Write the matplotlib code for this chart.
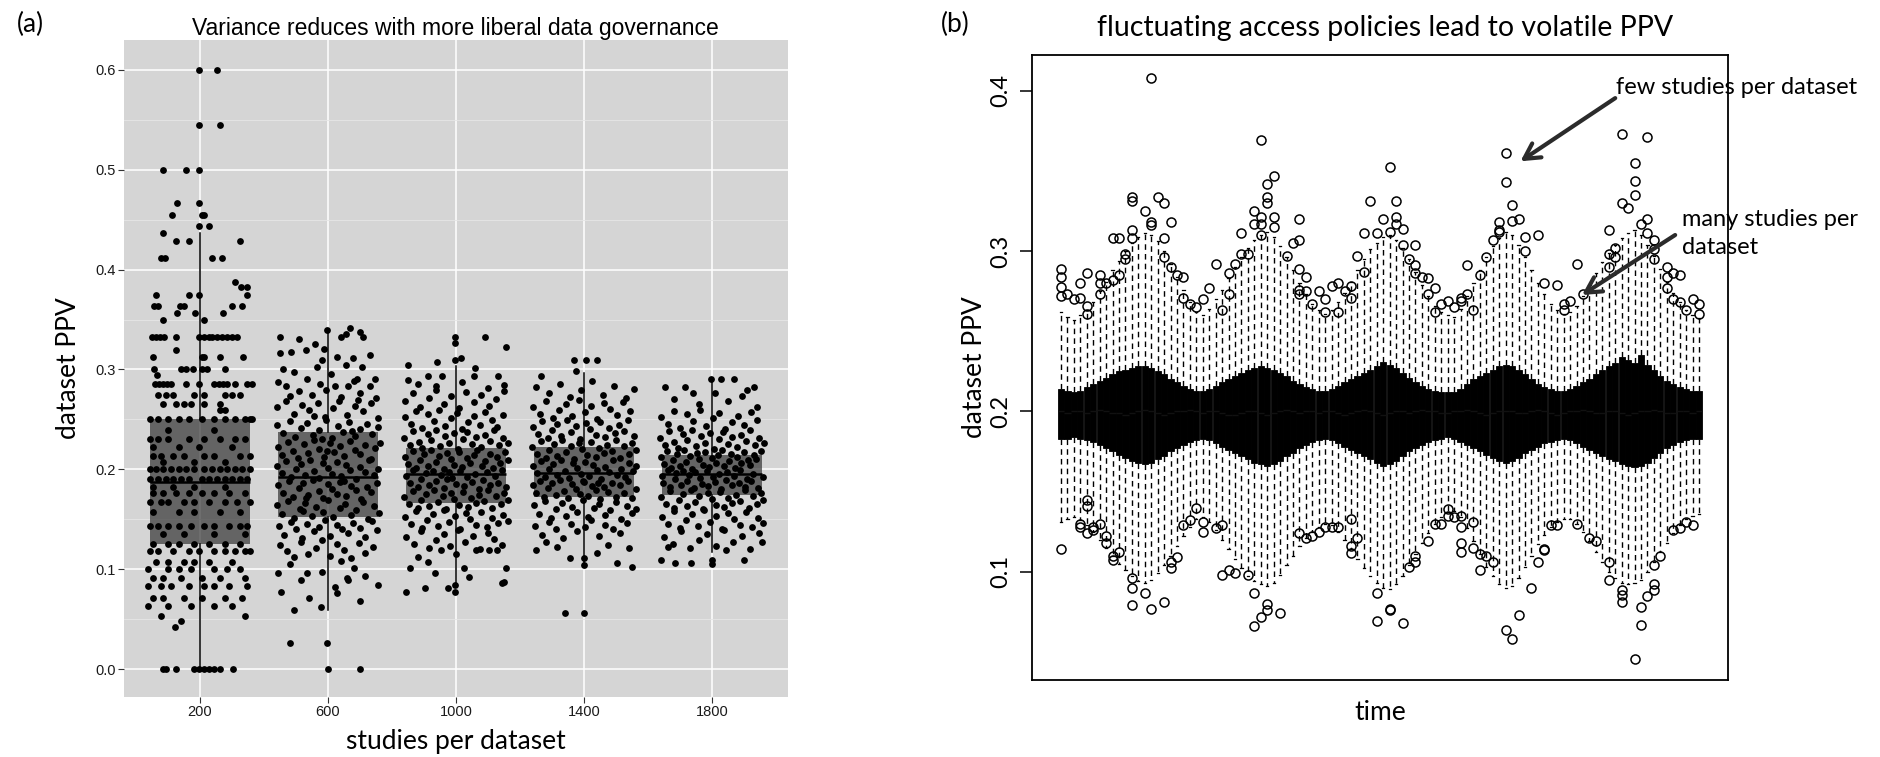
import matplotlib.pyplot as plt
import numpy as np

# ---------------- panel (a): PPV per dataset vs studies per dataset ----------------
a_pos = [200, 600, 1000, 1400, 1800]
a_q1 = [0.125, 0.152, 0.166, 0.172, 0.174]
a_med = [0.187, 0.192, 0.195, 0.196, 0.195]
a_q3 = [0.250, 0.237, 0.221, 0.222, 0.214]
a_lo = [0.000, 0.059, 0.084, 0.104, 0.117]
a_hi = [0.437, 0.340, 0.304, 0.296, 0.290]

# 200 studies: PPV takes few discrete levels -> (level, jitter offsets)
rows_200 = [
    (0.600, [-3, 53]), (0.545, [-3, 61]), (0.500, [-115, -43, -3]), (0.467, [-72, -3]),
    (0.455, [-88, 5, 13]), (0.444, [-3, 29]), (0.437, [-115]), (0.429, [-75, -35, 124]),
    (0.412, [-122, -110, 37, 69]), (0.388, [108]), (0.383, [128, 148]),
    (0.375, [-137, -35, -3, 148]), (0.364, [-145, -131, -63, -51, 100, 131]),
    (0.357, [-71, -17, 72]), (0.350, [-117, 13]),
    (0.333, [-150, -137, -124, -112, -75, -3, 13, 29, 37, 53, 69, 85, 100, 116]),
    (0.320, [-75]), (0.313, [-147, 5, 13, 64, 135]), (0.300, [-145, -60, -44, -21, 5, 21, 77]),
    (0.294, [-134]),
    (0.285, [-140, -128, -115, -103, -90, -43, -3, 45, 59, 72, 85, 108, 148, 161]),
    (0.274, [-131, -107, -83, -19, 13, 77, 100, 124]), (0.265, [-115, -75, -51, -27, 13, 61]),
    (0.259, [61, 77]),
    (0.250, [-155, -131, -99, -67, -35, 5, 45, 77, 108, 140, 156, 164]),
    (0.239, [-99, 45]), (0.230, [-155, -131, -99, -35, 13, 61, 108, 140]),
    (0.222, [-147, -67, -3, 100]), (0.213, [-147, -123, -83, -51, 13, 45, 124, 156]),
    (0.207, [-115, -19, 77]),
    (0.200, [-155, -139, -115, -91, -67, -43, -19, 13, 37, 61, 85, 108, 132, 156]),
    (0.190, [-155, -131, -107, -83, -59, -35, 5, 29, 53, 77, 100, 124, 148]),
    (0.182, [-147, -83, -19, 77]), (0.176, [-147, -115, -75, -35, 5, 45, 92, 140]),
    (0.167, [-155, -123, -99, -51, -19, 29, 77, 116, 156]), (0.157, [-147, -67, -19, 61, 124]),
    (0.143, [-155, -131, -99, -67, -27, 13, 45, 92, 124, 148]), (0.135, [-115, -51, 45, 140]),
    (0.125, [-147, -99, -67, -19, 29, 77, 124]),
    (0.118, [-155, -131, -83, -35, -3, 45, 77, 108, 140, 156]),
    (0.107, [-139, -99, -51, -19, 29, 100]), (0.100, [-162, -99, -67, -27, 45, 85, 124]),
    (0.091, [-147, -115, -59, 5, 61, 140]), (0.083, [-162, -123, -91, -35, 13, 45, 92, 148]),
    (0.071, [-147, -115, -51, 5, 77, 132]), (0.063, [-162, -99, -27, 45, 100]),
    (0.053, [-123, 140]), (0.048, [-59]), (0.042, [-79]),
    (0.000, [-115, -107, -75, -19, -3, 13, 29, 45, 61, 104]),
]

# (jitter offset, PPV)
pts_600 = [
    (-150, .333), (-3, .340), (41, .333), (57, .336), (69, .342), (100, .338), (108, .333), (-90, .331),
    (-150, .317), (-115, .318), (-70, .320), (-11, .321), (29, .313), (77, .312), (-40, .326), (130, .315),
    (-107, .297), (-67, .290), (-35, .303), (-19, .310), (105, .303), (92, .290), (148, .290), (-140, .301), (10, .295), (55, .305),
    (-155, .287), (-131, .283), (21, .283), (61, .283), (132, .283), (-90, .278), (-50, .274), (-5, .279), (40, .272), (100, .276),
    (150, .271), (-120, .273), (80, .288), (-25, .285),
    (-158, .262), (-130, .268), (-105, .255), (-80, .264), (-60, .259), (-30, .266), (-10, .252), (15, .261), (35, .268), (60, .254),
    (85, .263), (110, .258), (135, .266), (155, .251), (-45, .253), (95, .269),
    (-160, .244), (-141, .236), (-119, .248), (-102, .232), (-83, .241), (-66, .246), (-46, .234), (-29, .239), (-7, .249), (11, .231),
    (31, .243), (47, .237), (67, .247), (85, .233), (101, .240), (121, .245), (137, .235), (157, .242), (-20, .230), (74, .238),
    (-157, .222), (-143, .214), (-126, .227), (-108, .218), (-93, .211), (-75, .225), (-61, .216), (-43, .229), (-27, .220), (-11, .212),
    (5, .226), (19, .217), (37, .223), (51, .213), (69, .228), (84, .219), (101, .215), (115, .224), (133, .210), (147, .221), (161, .226), (-4, .218),
    (-160, .203), (-145, .196), (-131, .208), (-115, .192), (-101, .200), (-85, .205), (-73, .194), (-55, .209), (-43, .198), (-27, .191),
    (-15, .206), (1, .201), (13, .195), (29, .207), (41, .193), (57, .204), (69, .199), (87, .190), (99, .202), (115, .197),
    (127, .209), (143, .194), (155, .200), (49, .188),
    (-155, .184), (-141, .176), (-123, .188), (-109, .172), (-91, .181), (-79, .186), (-61, .174), (-47, .189), (-29, .178), (-17, .171),
    (-1, .185), (11, .180), (27, .175), (39, .187), (57, .173), (71, .183), (89, .179), (103, .170), (121, .182), (135, .177), (153, .186), (-69, .171),
    (-159, .164), (-143, .155), (-124, .168), (-106, .151), (-87, .160), (-71, .166), (-51, .153), (-36, .162), (-17, .157), (1, .169),
    (17, .152), (37, .161), (53, .165), (73, .154), (89, .159), (109, .167), (125, .150), (145, .163), (159, .156), (-79, .158),
    (-154, .143), (-136, .134), (-117, .147), (-101, .140), (-81, .131), (-65, .145), (-44, .138), (-29, .142), (-9, .149), (7, .133),
    (27, .144), (43, .140), (63, .136), (79, .146), (99, .141), (115, .132), (136, .148), (154, .139),
    (-151, .124), (-127, .118), (-106, .112), (-84, .127), (-63, .115), (-39, .121), (-19, .129), (6, .113), (27, .125), (51, .119),
    (71, .111), (96, .126), (117, .116), (141, .122),
    (-155, .096), (-120, .105), (-83, .089), (-67, .096), (-19, .097), (40, .108), (80, .101), (115, .093), (60, .091),
    (-147, .077), (-107, .059), (-22, .062), (29, .076), (61, .089), (21, .082), (156, .084), (-60, .071), (100, .068),
    (-118, .026), (-3, .026), (0, .000), (100, .000),
]

pts_1000 = [
    (-3, .333), (-3, .327), (92, .333), (156, .323),
    (-151, .305), (-3, .310), (16, .312), (60, .302), (-60, .308),
    (-88, .293), (-43, .293), (56, .293), (132, .293), (-120, .285), (-64, .283), (20, .287), (100, .281), (-150, .289), (150, .284),
    (-158, .268), (-133, .276), (-112, .262), (-84, .271), (-63, .279), (-37, .265), (-16, .273), (9, .261), (31, .277), (56, .267),
    (77, .274), (103, .263), (124, .270), (149, .278),
    (-160, .252), (-141, .245), (-125, .258), (-105, .241), (-89, .255), (-69, .248), (-53, .259), (-33, .243), (-17, .251), (3, .256),
    (19, .240), (39, .247), (55, .253), (75, .244), (91, .257), (111, .249), (127, .242), (147, .254),
    (-161, .231), (-145, .224), (-133, .238), (-117, .227), (-105, .221), (-89, .235), (-77, .229), (-61, .239), (-49, .223), (-33, .233),
    (-21, .226), (-5, .236), (7, .220), (23, .230), (35, .237), (51, .225), (63, .232), (79, .222), (91, .234), (107, .228),
    (119, .239), (135, .224), (147, .231), (161, .226),
    (-159, .212), (-149, .205), (-135, .218), (-125, .201), (-111, .209), (-101, .215), (-87, .203), (-77, .219), (-63, .207), (-53, .213),
    (-39, .200), (-29, .216), (-15, .210), (-5, .204), (9, .217), (19, .202), (33, .211), (43, .206), (57, .214), (67, .219),
    (81, .203), (91, .208), (105, .215), (115, .201), (129, .212), (139, .206), (153, .217), (162, .209),
    (-157, .193), (-143, .186), (-133, .199), (-119, .182), (-109, .190), (-95, .196), (-85, .184), (-71, .198), (-61, .188), (-47, .194),
    (-37, .181), (-23, .197), (-13, .191), (1, .185), (11, .198), (25, .183), (35, .192), (49, .187), (59, .195), (73, .180),
    (83, .189), (97, .197), (107, .184), (121, .193), (131, .186), (145, .199), (155, .182), (-29, .190),
    (-161, .172), (-146, .165), (-135, .178), (-120, .161), (-109, .169), (-94, .175), (-83, .163), (-68, .179), (-57, .167), (-42, .173),
    (-31, .160), (-16, .176), (-5, .170), (10, .164), (21, .177), (36, .162), (47, .171), (62, .166), (73, .174), (88, .168),
    (99, .179), (114, .161), (125, .173), (140, .165), (151, .176), (162, .169),
    (-158, .152), (-140, .145), (-125, .158), (-106, .141), (-91, .149), (-72, .155), (-57, .143), (-38, .159), (-23, .147), (-4, .153),
    (11, .140), (30, .156), (45, .150), (64, .144), (79, .157), (98, .142), (113, .151), (132, .146), (147, .154), (161, .148),
    (-155, .132), (-131, .125), (-110, .138), (-85, .121), (-64, .129), (-39, .135), (-18, .123), (7, .139), (28, .127), (53, .133),
    (74, .120), (99, .136), (120, .130), (145, .124),
    (-143, .101), (-88, .107), (24, .101), (-48, .119), (64, .119), (104, .119), (128, .119), (156, .101), (-120, .112), (0, .115),
    (-155, .077), (-96, .081), (-67, .096), (-3, .084), (-3, .077), (-24, .081), (143, .086), (150, .087), (40, .092),
]

pts_1400 = [
    (-32, .310), (5, .310), (40, .310), (-24, .298), (-135, .293),
    (-150, .282), (-110, .276), (-75, .285), (-45, .272), (-10, .279), (25, .288), (60, .274), (95, .283), (130, .271), (155, .280),
    (-158, .262), (-137, .255), (-119, .268), (-97, .251), (-79, .259), (-57, .265), (-39, .253), (-17, .269), (3, .257), (23, .263),
    (41, .250), (63, .266), (81, .260), (103, .254), (121, .267), (143, .258),
    (-160, .242), (-144, .235), (-131, .248), (-114, .231), (-101, .239), (-84, .245), (-71, .233), (-54, .249), (-41, .237), (-24, .243),
    (-11, .230), (6, .246), (19, .240), (36, .234), (49, .247), (66, .232), (79, .241), (96, .236), (109, .244), (126, .238),
    (139, .249), (156, .233),
    (-161, .222), (-146, .215), (-135, .228), (-120, .211), (-109, .219), (-94, .225), (-83, .213), (-68, .229), (-57, .217), (-42, .223),
    (-31, .210), (-16, .226), (-5, .220), (10, .214), (21, .227), (36, .212), (47, .221), (62, .216), (73, .224), (88, .218),
    (99, .229), (114, .211), (125, .223), (140, .215), (151, .226), (162, .219),
    (-158, .203), (-147, .196), (-134, .208), (-122, .192), (-109, .200), (-97, .205), (-84, .194), (-72, .209), (-59, .198), (-47, .191),
    (-34, .206), (-22, .201), (-9, .195), (3, .207), (16, .193), (28, .204), (41, .199), (53, .190), (66, .202), (78, .197),
    (91, .209), (103, .194), (116, .200), (128, .192), (141, .206), (153, .198), (162, .203), (-2, .188),
    (-160, .184), (-149, .176), (-136, .188), (-124, .172), (-111, .181), (-99, .186), (-86, .174), (-74, .189), (-61, .178), (-49, .171),
    (-36, .185), (-24, .180), (-11, .175), (1, .187), (14, .173), (26, .183), (39, .179), (51, .170), (64, .182), (76, .177),
    (89, .186), (101, .172), (114, .184), (126, .176), (139, .188), (151, .171), (161, .180), (45, .186),
    (-157, .164), (-140, .155), (-123, .168), (-104, .151), (-89, .160), (-70, .166), (-55, .153), (-36, .162), (-21, .157), (-2, .169),
    (13, .152), (32, .161), (47, .165), (66, .154), (81, .159), (100, .167), (115, .150), (134, .163), (149, .156), (161, .160),
    (-153, .143), (-130, .134), (-109, .147), (-86, .140), (-65, .131), (-42, .145), (-21, .138), (2, .142), (23, .149), (46, .133),
    (67, .144), (90, .140), (111, .136), (134, .146),
    (-151, .119), (-120, .127), (-85, .122), (-43, .111), (0, .111), (40, .116), (75, .124), (104, .106), (140, .121), (151, .102),
    (0, .104), (-59, .056), (0, .056),
]

pts_1800 = [
    (-3, .290), (29, .290), (69, .290), (132, .282), (-147, .282),
    (-83, .282), (-120, .270), (-40, .265), (10, .276), (50, .268), (95, .273), (140, .262), (-60, .276), (110, .279),
    (-159, .252), (-139, .245), (-118, .258), (-99, .241), (-78, .255), (-59, .248), (-38, .259), (-19, .243), (2, .251), (21, .256),
    (42, .240), (61, .247), (82, .253), (101, .244), (122, .257), (141, .249),
    (-161, .231), (-147, .224), (-133, .238), (-119, .227), (-105, .221), (-91, .235), (-77, .229), (-63, .239), (-49, .223), (-35, .233),
    (-21, .226), (-7, .236), (7, .220), (21, .230), (35, .237), (49, .225), (63, .232), (77, .222), (91, .234), (105, .228),
    (119, .239), (133, .224), (147, .231), (161, .226),
    (-160, .212), (-149, .205), (-141, .218), (-128, .201), (-121, .209), (-108, .215), (-101, .203), (-88, .219), (-81, .207), (-68, .213),
    (-61, .200), (-48, .216), (-41, .210), (-28, .204), (-21, .217), (-8, .202), (1, .211), (12, .206), (19, .214), (32, .219),
    (39, .203), (52, .208), (59, .215), (72, .201), (79, .212), (92, .206), (99, .217), (112, .209), (119, .204), (132, .214),
    (139, .210), (152, .218),
    (-157, .193), (-152, .186), (-137, .199), (-132, .182), (-117, .190), (-112, .196), (-97, .184), (-92, .198), (-77, .188), (-72, .194),
    (-57, .181), (-52, .197), (-37, .191), (-32, .185), (-17, .198), (-12, .183), (3, .192), (8, .187), (23, .195), (28, .180),
    (43, .189), (48, .197), (63, .184), (68, .193), (83, .186), (88, .199), (103, .182), (108, .190), (123, .188), (128, .195),
    (143, .181), (158, .192),
    (-158, .172), (-144, .165), (-131, .178), (-118, .161), (-104, .169), (-92, .175), (-79, .163), (-66, .179), (-52, .167), (-40, .173),
    (-27, .160), (-14, .176), (-1, .170), (12, .164), (24, .177), (37, .162), (50, .171), (64, .166), (76, .174), (89, .168),
    (102, .179), (116, .161), (128, .173), (141, .165), (154, .176), (160, .169),
    (-155, .152), (-137, .145), (-118, .158), (-99, .141), (-81, .149), (-62, .155), (-43, .143), (-25, .159), (-6, .147), (13, .153),
    (31, .140), (50, .156), (69, .150), (87, .144), (106, .157), (125, .142), (143, .151), (160, .146),
    (-150, .132), (-123, .125), (-96, .138), (-69, .121), (-42, .129), (-15, .135), (12, .123), (39, .139), (66, .127), (93, .133),
    (120, .120), (147, .136),
    (-159, .109), (-115, .106), (-67, .106), (0, .109), (0, .105), (100, .109), (156, .127), (-139, .122), (45, .119),
]

# ---------------- panel (b): 100 boxplots over time ----------------
b_hi = [0.262, 0.259, 0.257, 0.260, 0.263, 0.268, 0.275, 0.281, 0.288, 0.294,
        0.300, 0.305, 0.309, 0.311, 0.310, 0.306, 0.300, 0.292, 0.284, 0.276,
        0.268, 0.262, 0.260, 0.264, 0.270, 0.276, 0.283, 0.290, 0.296, 0.302,
        0.307, 0.310, 0.312, 0.309, 0.303, 0.296, 0.288, 0.280, 0.273, 0.267,
        0.263, 0.261, 0.263, 0.268, 0.274, 0.281, 0.288, 0.295, 0.301, 0.305,
        0.309, 0.310, 0.307, 0.302, 0.295, 0.287, 0.279, 0.272, 0.266, 0.262,
        0.260, 0.259, 0.264, 0.272, 0.280, 0.288, 0.296, 0.303, 0.308, 0.312,
        0.310, 0.304, 0.296, 0.288, 0.280, 0.273, 0.267, 0.263, 0.261, 0.262,
        0.266, 0.272, 0.279, 0.286, 0.293, 0.299, 0.304, 0.308, 0.311, 0.313,
        0.310, 0.304, 0.297, 0.289, 0.281, 0.274, 0.268, 0.263, 0.260, 0.258]
b_q3 = [0.214, 0.213, 0.212, 0.213, 0.215, 0.217, 0.219, 0.221, 0.223, 0.225,
        0.226, 0.227, 0.228, 0.228, 0.227, 0.225, 0.223, 0.220, 0.218, 0.216,
        0.214, 0.213, 0.213, 0.214, 0.216, 0.218, 0.220, 0.222, 0.224, 0.226,
        0.227, 0.228, 0.227, 0.226, 0.224, 0.222, 0.219, 0.217, 0.215, 0.214,
        0.213, 0.213, 0.214, 0.216, 0.218, 0.220, 0.222, 0.224, 0.226, 0.228,
        0.231, 0.229, 0.227, 0.224, 0.221, 0.218, 0.216, 0.214, 0.213, 0.212,
        0.212, 0.212, 0.214, 0.217, 0.220, 0.222, 0.224, 0.226, 0.228, 0.229,
        0.228, 0.226, 0.223, 0.220, 0.217, 0.215, 0.214, 0.213, 0.213, 0.214,
        0.216, 0.218, 0.220, 0.223, 0.226, 0.228, 0.230, 0.234, 0.232, 0.230,
        0.235, 0.229, 0.226, 0.222, 0.219, 0.217, 0.215, 0.214, 0.213, 0.213]
b_med = [0.200, 0.199, 0.200, 0.200, 0.199, 0.200, 0.201, 0.200, 0.199, 0.199,
         0.198, 0.199, 0.200, 0.201, 0.200, 0.199, 0.198, 0.199, 0.200, 0.200,
         0.201, 0.200, 0.199, 0.200, 0.200, 0.199, 0.198, 0.198, 0.199, 0.200,
         0.200, 0.199, 0.198, 0.199, 0.200, 0.201, 0.200, 0.199, 0.200, 0.200,
         0.199, 0.200, 0.200, 0.199, 0.198, 0.199, 0.200, 0.201, 0.200, 0.199,
         0.198, 0.199, 0.200, 0.200, 0.199, 0.200, 0.201, 0.200, 0.200, 0.199,
         0.199, 0.200, 0.200, 0.201, 0.200, 0.199, 0.198, 0.199, 0.200, 0.200,
         0.200, 0.199, 0.199, 0.200, 0.201, 0.200, 0.199, 0.198, 0.199, 0.200,
         0.200, 0.201, 0.200, 0.199, 0.199, 0.200, 0.200, 0.199, 0.198, 0.199,
         0.200, 0.200, 0.201, 0.200, 0.199, 0.199, 0.200, 0.200, 0.199, 0.200]
b_q1 = [0.183, 0.183, 0.184, 0.183, 0.182, 0.181, 0.179, 0.177, 0.175, 0.173,
        0.171, 0.169, 0.168, 0.167, 0.168, 0.170, 0.172, 0.175, 0.177, 0.179,
        0.181, 0.182, 0.183, 0.182, 0.180, 0.178, 0.176, 0.174, 0.172, 0.170,
        0.168, 0.167, 0.166, 0.167, 0.169, 0.172, 0.174, 0.177, 0.179, 0.181,
        0.182, 0.183, 0.182, 0.180, 0.178, 0.176, 0.174, 0.172, 0.170, 0.168,
        0.166, 0.167, 0.169, 0.172, 0.175, 0.177, 0.179, 0.181, 0.182, 0.183,
        0.184, 0.183, 0.181, 0.179, 0.177, 0.175, 0.173, 0.171, 0.169, 0.168,
        0.169, 0.171, 0.174, 0.176, 0.178, 0.180, 0.181, 0.182, 0.183, 0.182,
        0.180, 0.178, 0.176, 0.174, 0.172, 0.170, 0.169, 0.167, 0.166, 0.165,
        0.166, 0.168, 0.171, 0.174, 0.177, 0.179, 0.181, 0.182, 0.183, 0.183]
b_lo = [0.131, 0.133, 0.134, 0.132, 0.129, 0.125, 0.120, 0.115, 0.110, 0.105,
        0.101, 0.097, 0.094, 0.093, 0.095, 0.099, 0.104, 0.110, 0.116, 0.122,
        0.128, 0.133, 0.134, 0.131, 0.126, 0.120, 0.114, 0.108, 0.102, 0.097,
        0.094, 0.092, 0.091, 0.093, 0.098, 0.104, 0.110, 0.116, 0.121, 0.125,
        0.128, 0.130, 0.129, 0.125, 0.120, 0.114, 0.108, 0.102, 0.097, 0.093,
        0.090, 0.089, 0.092, 0.097, 0.104, 0.111, 0.118, 0.124, 0.130, 0.134,
        0.137, 0.138, 0.134, 0.127, 0.119, 0.111, 0.103, 0.097, 0.092, 0.090,
        0.091, 0.096, 0.103, 0.110, 0.117, 0.123, 0.128, 0.131, 0.133, 0.133,
        0.130, 0.125, 0.119, 0.112, 0.106, 0.100, 0.096, 0.093, 0.092, 0.093,
        0.095, 0.100, 0.106, 0.112, 0.118, 0.124, 0.129, 0.133, 0.135, 0.136]

# outliers: (time step, PPV)
b_out = [
    (1, .289), (1, .284), (1, .2775), (1, .272), (2, .273), (3, .270), (4, .280), (4, .271), (5, .266), (5, .261), (5, .286),
    (7, .285), (7, .280), (7, .273), (8, .280), (9, .282), (10, .285), (9, .308), (10, .308), (11, .298), (11, .295),
    (12, .334), (12, .331), (12, .313), (12, .308), (14, .325), (15, .408), (15, .318), (15, .316), (16, .334), (17, .330),
    (17, .308), (17, .296), (18, .318), (18, .290), (19, .285), (20, .284), (20, .271), (21, .267), (22, .265), (23, .270),
    (24, .277), (25, .292), (26, .263), (27, .286), (27, .273), (28, .292), (29, .298), (29, .311), (30, .298), (31, .317),
    (31, .325), (32, .369), (32, .317), (32, .321), (32, .310), (33, .342), (33, .334), (33, .330), (34, .347), (34, .321),
    (34, .315), (36, .297), (37, .305), (38, .320), (38, .307), (38, .289), (38, .276), (38, .273), (39, .284), (39, .275),
    (40, .267), (41, .275), (42, .270), (42, .262), (43, .278), (44, .280), (44, .262), (45, .275), (46, .271), (46, .278),
    (47, .297), (48, .287), (48, .311), (49, .331), (50, .311), (51, .320), (52, .3525), (52, .312), (53, .331), (53, .321),
    (53, .317), (54, .314), (54, .304), (55, .295), (56, .304), (56, .291), (56, .286), (57, .284), (58, .283), (58, .273),
    (59, .277), (59, .262), (60, .267), (61, .269), (62, .265), (63, .269), (63, .271), (64, .273), (64, .291), (65, .263),
    (66, .285), (67, .296), (68, .307), (69, .312), (69, .318), (69, .313), (70, .361), (70, .343), (71, .319), (71, .329),
    (72, .320), (73, .309), (73, .300), (75, .310), (76, .280), (78, .279), (79, .267), (79, .263), (80, .269), (81, .292),
    (82, .273), (86, .313), (86, .298), (86, .290), (87, .302), (87, .296), (88, .373), (88, .330), (89, .327), (90, .355),
    (90, .344), (90, .335), (91, .317), (92, .371), (92, .320), (92, .311), (93, .307), (93, .301), (93, .295), (95, .290),
    (95, .284), (95, .277), (96, .286), (96, .270), (97, .285), (97, .268), (98, .263), (99, .270), (100, .267), (100, .261),
    (1, .114), (4, .130), (4, .128), (5, .145), (5, .141), (5, .124), (6, .126), (6, .128), (7, .130), (8, .122), (8, .118),
    (9, .107), (9, .110), (10, .1125), (12, .096), (12, .090), (12, .079), (14, .0865), (15, .0765), (17, .081), (18, .106),
    (18, .102), (19, .109), (20, .129), (21, .132), (22, .140), (23, .125), (23, .131), (25, .127), (26, .129), (26, .098),
    (27, .101), (28, .099), (30, .098), (31, .0865), (31, .066), (32, .072), (33, .080), (33, .076), (35, .074), (38, .124),
    (39, .121), (40, .122), (41, .125), (42, .128), (43, .128), (44, .128), (46, .133), (46, .116), (46, .1115), (47, .121),
    (50, .0865), (50, .069), (52, .077), (52, .076), (54, .068), (55, .103), (56, .106), (56, .110), (58, .119), (59, .130),
    (60, .130), (61, .139), (61, .135), (62, .134), (63, .112), (63, .135), (63, .128), (63, .118), (65, .131), (65, .115),
    (66, .111), (66, .101), (67, .110), (68, .106), (70, .0635), (71, .058), (72, .073), (74, .0895), (75, .106), (76, .1135),
    (76, .114), (77, .129), (78, .129), (81, .130), (83, .121), (84, .119), (86, .106), (86, .095), (88, .0885), (88, .0855),
    (88, .081), (90, .0452), (91, .078), (91, .067), (92, .0845), (93, .0885), (93, .0925), (93, .104), (94, .110), (96, .126),
    (97, .127), (98, .131), (99, .129),
]

W, H = 1880, 757
plt.rcParams['font.family'] = ['Lato', 'DejaVu Sans']
fig = plt.figure(figsize=(W / 100, H / 100), dpi=100)


def px(x, y):
    return x / W, 1 - y / H


def ft(x, y, s, **kw):
    fig.text(*px(x, y), s, **kw)


# ---- (a) ----
ax1 = fig.add_axes([124 / W, 1 - 697 / H, 664 / W, 657 / H])
ax1.set_facecolor('#d5d5d5')
for sp in ax1.spines.values():
    sp.set_visible(False)
ax1.set_xlim(-37.5, 2037.5)
ax1.set_ylim(-0.028, 0.630)
ax1.set_xticks(a_pos)
ax1.set_xticklabels([str(p) for p in a_pos])
yt = [0.0, 0.1, 0.2, 0.3, 0.4, 0.5, 0.6]
ax1.set_yticks(yt)
ax1.set_yticklabels(['%.1f' % v for v in yt])
ax1.set_yticks([0.05, 0.15, 0.25, 0.35, 0.45, 0.55], minor=True)
ax1.grid(True, which='major', color='white', lw=1.1)
ax1.grid(True, which='minor', axis='y', color='#e6e6e6', lw=0.6)
ax1.set_axisbelow(True)
ax1.tick_params(which='major', length=4, width=0.8, color='#333333', labelsize=10.5,
                labelcolor='#1a1a1a', pad=2)
ax1.tick_params(which='minor', length=0)
for lab in ax1.get_xticklabels() + ax1.get_yticklabels():
    lab.set_fontfamily('Liberation Sans')

stats_a = []
for k in range(len(a_pos)):
    stats_a.append(dict(med=a_med[k], q1=a_q1[k], q3=a_q3[k], whislo=a_lo[k], whishi=a_hi[k], fliers=[]))
ax1.bxp(stats_a, positions=a_pos, widths=310, patch_artist=True, showfliers=False, showcaps=False,
        boxprops=dict(facecolor='#2e2e2e', alpha=0.68, edgecolor='none'),
        whiskerprops=dict(color='black', lw=1.1),
        medianprops=dict(color='black', lw=1.8), manage_ticks=False)

xs, ys = [], []
for lvl, offs in rows_200:
    for o in offs:
        xs.append(200 + o)
        ys.append(lvl)
for c, pts in [(600, pts_600), (1000, pts_1000), (1400, pts_1400), (1800, pts_1800)]:
    for o, v in pts:
        xs.append(c + o)
        ys.append(v)
ax1.scatter(xs, ys, s=24, c='black', lw=0, zorder=3)

# ---- (b) ----
ax2 = fig.add_axes([1032 / W, 1 - 680 / H, 696 / W, 625 / H])
ax2.set_xlim(-3.5, 104.5)
ax2.set_ylim(0.0324, 0.4223)
stats_b = []
for k in range(100):
    fl = [v for i, v in b_out if i == k + 1]
    stats_b.append(dict(med=b_med[k], q1=b_q1[k], q3=b_q3[k], whislo=b_lo[k], whishi=b_hi[k], fliers=fl))
ax2.bxp(stats_b, positions=range(1, 101), widths=0.95, patch_artist=True, showfliers=True,
        capwidths=0.35,
        boxprops=dict(facecolor='black', edgecolor='black', lw=0.6),
        whiskerprops=dict(color='black', lw=1.0, linestyle=(0, (4, 3))),
        capprops=dict(color='black', lw=0.9),
        medianprops=dict(color='#111111', lw=1.0),
        flierprops=dict(marker='o', mfc='none', mec='black', ms=6.5, mew=1.1),
        manage_ticks=False)
ax2.set_xticks([])
bt = [0.1, 0.2, 0.3, 0.4]
ax2.set_yticks(bt)
ax2.set_yticklabels(['%.1f' % v for v in bt], rotation=90, va='center')
ax2.tick_params(axis='y', length=9, width=1.1, labelsize=17, pad=6)
for sp in ax2.spines.values():
    sp.set_linewidth(1.3)

arrow_kw = dict(arrowstyle='->,head_length=0.55,head_width=0.3', lw=3.0, color='#2b2b2b',
                shrinkA=0, shrinkB=0, mutation_scale=20)
ax2.annotate('', xy=(72.3, 0.356), xytext=(87.0, 0.3954), arrowprops=arrow_kw, annotation_clip=False)
ax2.annotate('', xy=(81.85, 0.2726), xytext=(96.3, 0.310), arrowprops=arrow_kw, annotation_clip=False)

# ---- texts ----
ft(30, 24, '(a)', fontsize=19, ha='center', va='center')
ft(955, 24, '(b)', fontsize=19, ha='center', va='center')
ft(455, 28, 'Variance reduces with more liberal data governance', fontsize=16.5,
   family='Liberation Sans', ha='center', va='center')
ft(1385, 28, 'fluctuating access policies lead to volatile PPV', fontsize=20.5, ha='center', va='center')
ft(68, 368, 'dataset PPV', fontsize=19, rotation=90, ha='center', va='center')
ft(456, 742, 'studies per dataset', fontsize=19, ha='center', va='center')
ft(974, 367, 'dataset PPV', fontsize=19, rotation=90, ha='center', va='center')
ft(1380, 713, 'time', fontsize=19, ha='center', va='center')
ft(1616, 88, 'few studies per dataset', fontsize=17, ha='left', va='center')
ft(1682, 219, 'many studies per', fontsize=17, ha='left', va='center')
ft(1682, 248, 'dataset', fontsize=17, ha='left', va='center')

fig.savefig('out.png', dpi=100, facecolor='white')
